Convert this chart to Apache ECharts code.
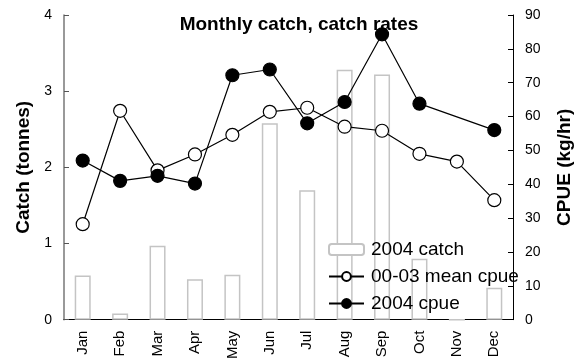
<!DOCTYPE html>
<html>
<head>
<meta charset="utf-8">
<script src="https://cdn.jsdelivr.net/npm/echarts@6/dist/echarts.min.js"></script>
<style>
  html, body { margin: 0; padding: 0; background: #fff; }
  #chart { width: 582px; height: 362px; }
</style>
</head>
<body>
<div id="chart"></div>
<script>
var months = ['Jan', 'Feb', 'Mar', 'Apr', 'May', 'Jun', 'Jul', 'Aug', 'Sep', 'Oct', 'Nov', 'Dec'];
var catch2004 = [0.58, 0.08, 0.97, 0.53, 0.59, 2.58, 1.70, 3.28, 3.22, 0.80, 0, 0.42];
var meanCpue = [28.2, 61.7, 44.1, 48.8, 54.6, 61.4, 62.6, 57.0, 55.8, 49.0, 46.7, 35.3];
var cpue2004 = [47.0, 41.0, 42.5, 40.2, 72.2, 73.9, 58.0, 64.3, 84.3, 63.8, null, 56.0];
var catchTicks = [0, 4, 1];
var cpueTicks = [0, 90, 10];

var chart = echarts.init(document.getElementById('chart'));
var font = 'Liberation Sans, Arial, sans-serif';

var option = {
    backgroundColor: '#fff',
    animation: false,
    title: {
        text: 'Monthly catch, catch rates',
        left: 299,
        textAlign: 'center',
        top: 15,
        padding: 0,
        textStyle: { fontFamily: font, fontSize: 19, fontWeight: 'bold', color: '#000' }
    },
    legend: {
        orient: 'vertical',
        left: 328,
        top: 240,
        padding: 0,
        itemWidth: 35,
        itemHeight: 11,
        itemGap: 8,
        textStyle: { fontFamily: font, fontSize: 19, lineHeight: 19, color: '#000', padding: [0, 0, 0, 2] },
        data: ['2004 catch', '00-03 mean cpue', '2004 cpue']
    },
    grid: { left: 64, right: 56, top: 15, bottom: 40, containLabel: false },
    xAxis: {
        type: 'category',
        data: months,
        boundaryGap: true,
        axisLine: { lineStyle: { color: '#000', width: 1 } },
        axisTick: { inside: true, length: 5, lineStyle: { color: '#000' } },
        axisLabel: { rotate: 90, fontFamily: font, fontSize: 15, color: '#000', margin: 11 }
    },
    yAxis: [
        {
            type: 'value',
            min: catchTicks[0], max: catchTicks[1], interval: catchTicks[2],
            name: 'Catch (tonnes)',
            nameLocation: 'middle',
            nameRotate: 90,
            nameGap: 31,
            nameTextStyle: { fontFamily: font, fontSize: 19, fontWeight: 'bold', color: '#000' },
            axisLine: { show: true, lineStyle: { color: '#777', width: 1.5 } },
            axisTick: { show: true, inside: true, length: 5, lineStyle: { color: '#555' } },
            axisLabel: { fontFamily: font, fontSize: 14, color: '#000', margin: 12 },
            splitLine: { show: false }
        },
        {
            type: 'value',
            min: cpueTicks[0], max: cpueTicks[1], interval: cpueTicks[2],
            position: 'right',
            name: 'CPUE (kg/hr)',
            nameLocation: 'middle',
            nameRotate: 90,
            nameGap: 42,
            nameTextStyle: { fontFamily: font, fontSize: 19, fontWeight: 'bold', color: '#000' },
            axisLine: { show: true, lineStyle: { color: '#000' } },
            axisTick: { show: true, inside: true, length: 5, lineStyle: { color: '#000' } },
            axisLabel: { fontFamily: font, fontSize: 14, color: '#000', margin: 12 },
            splitLine: { show: false }
        }
    ],
    series: [
        {
            name: '2004 catch',
            type: 'bar',
            yAxisIndex: 0,
            data: catch2004,
            barWidth: 16,
            itemStyle: { color: '#fff', borderColor: '#c4c4c4', borderWidth: 1.5 },
            z: 1
        },
        {
            name: '00-03 mean cpue',
            type: 'line',
            yAxisIndex: 1,
            data: meanCpue,
            symbol: 'circle',
            symbolSize: 13,
            lineStyle: { color: '#000', width: 1.2 },
            itemStyle: { color: '#fff', borderColor: '#000', borderWidth: 1.2 },
            z: 3
        },
        {
            name: '2004 cpue',
            type: 'line',
            yAxisIndex: 1,
            data: cpue2004,
            connectNulls: true,
            symbol: 'circle',
            symbolSize: 13,
            lineStyle: { color: '#000', width: 1.2 },
            itemStyle: { color: '#000', borderColor: '#000', borderWidth: 1.2 },
            z: 4
        }
    ]
};

chart.setOption(option);
</script>
</body>
</html>
